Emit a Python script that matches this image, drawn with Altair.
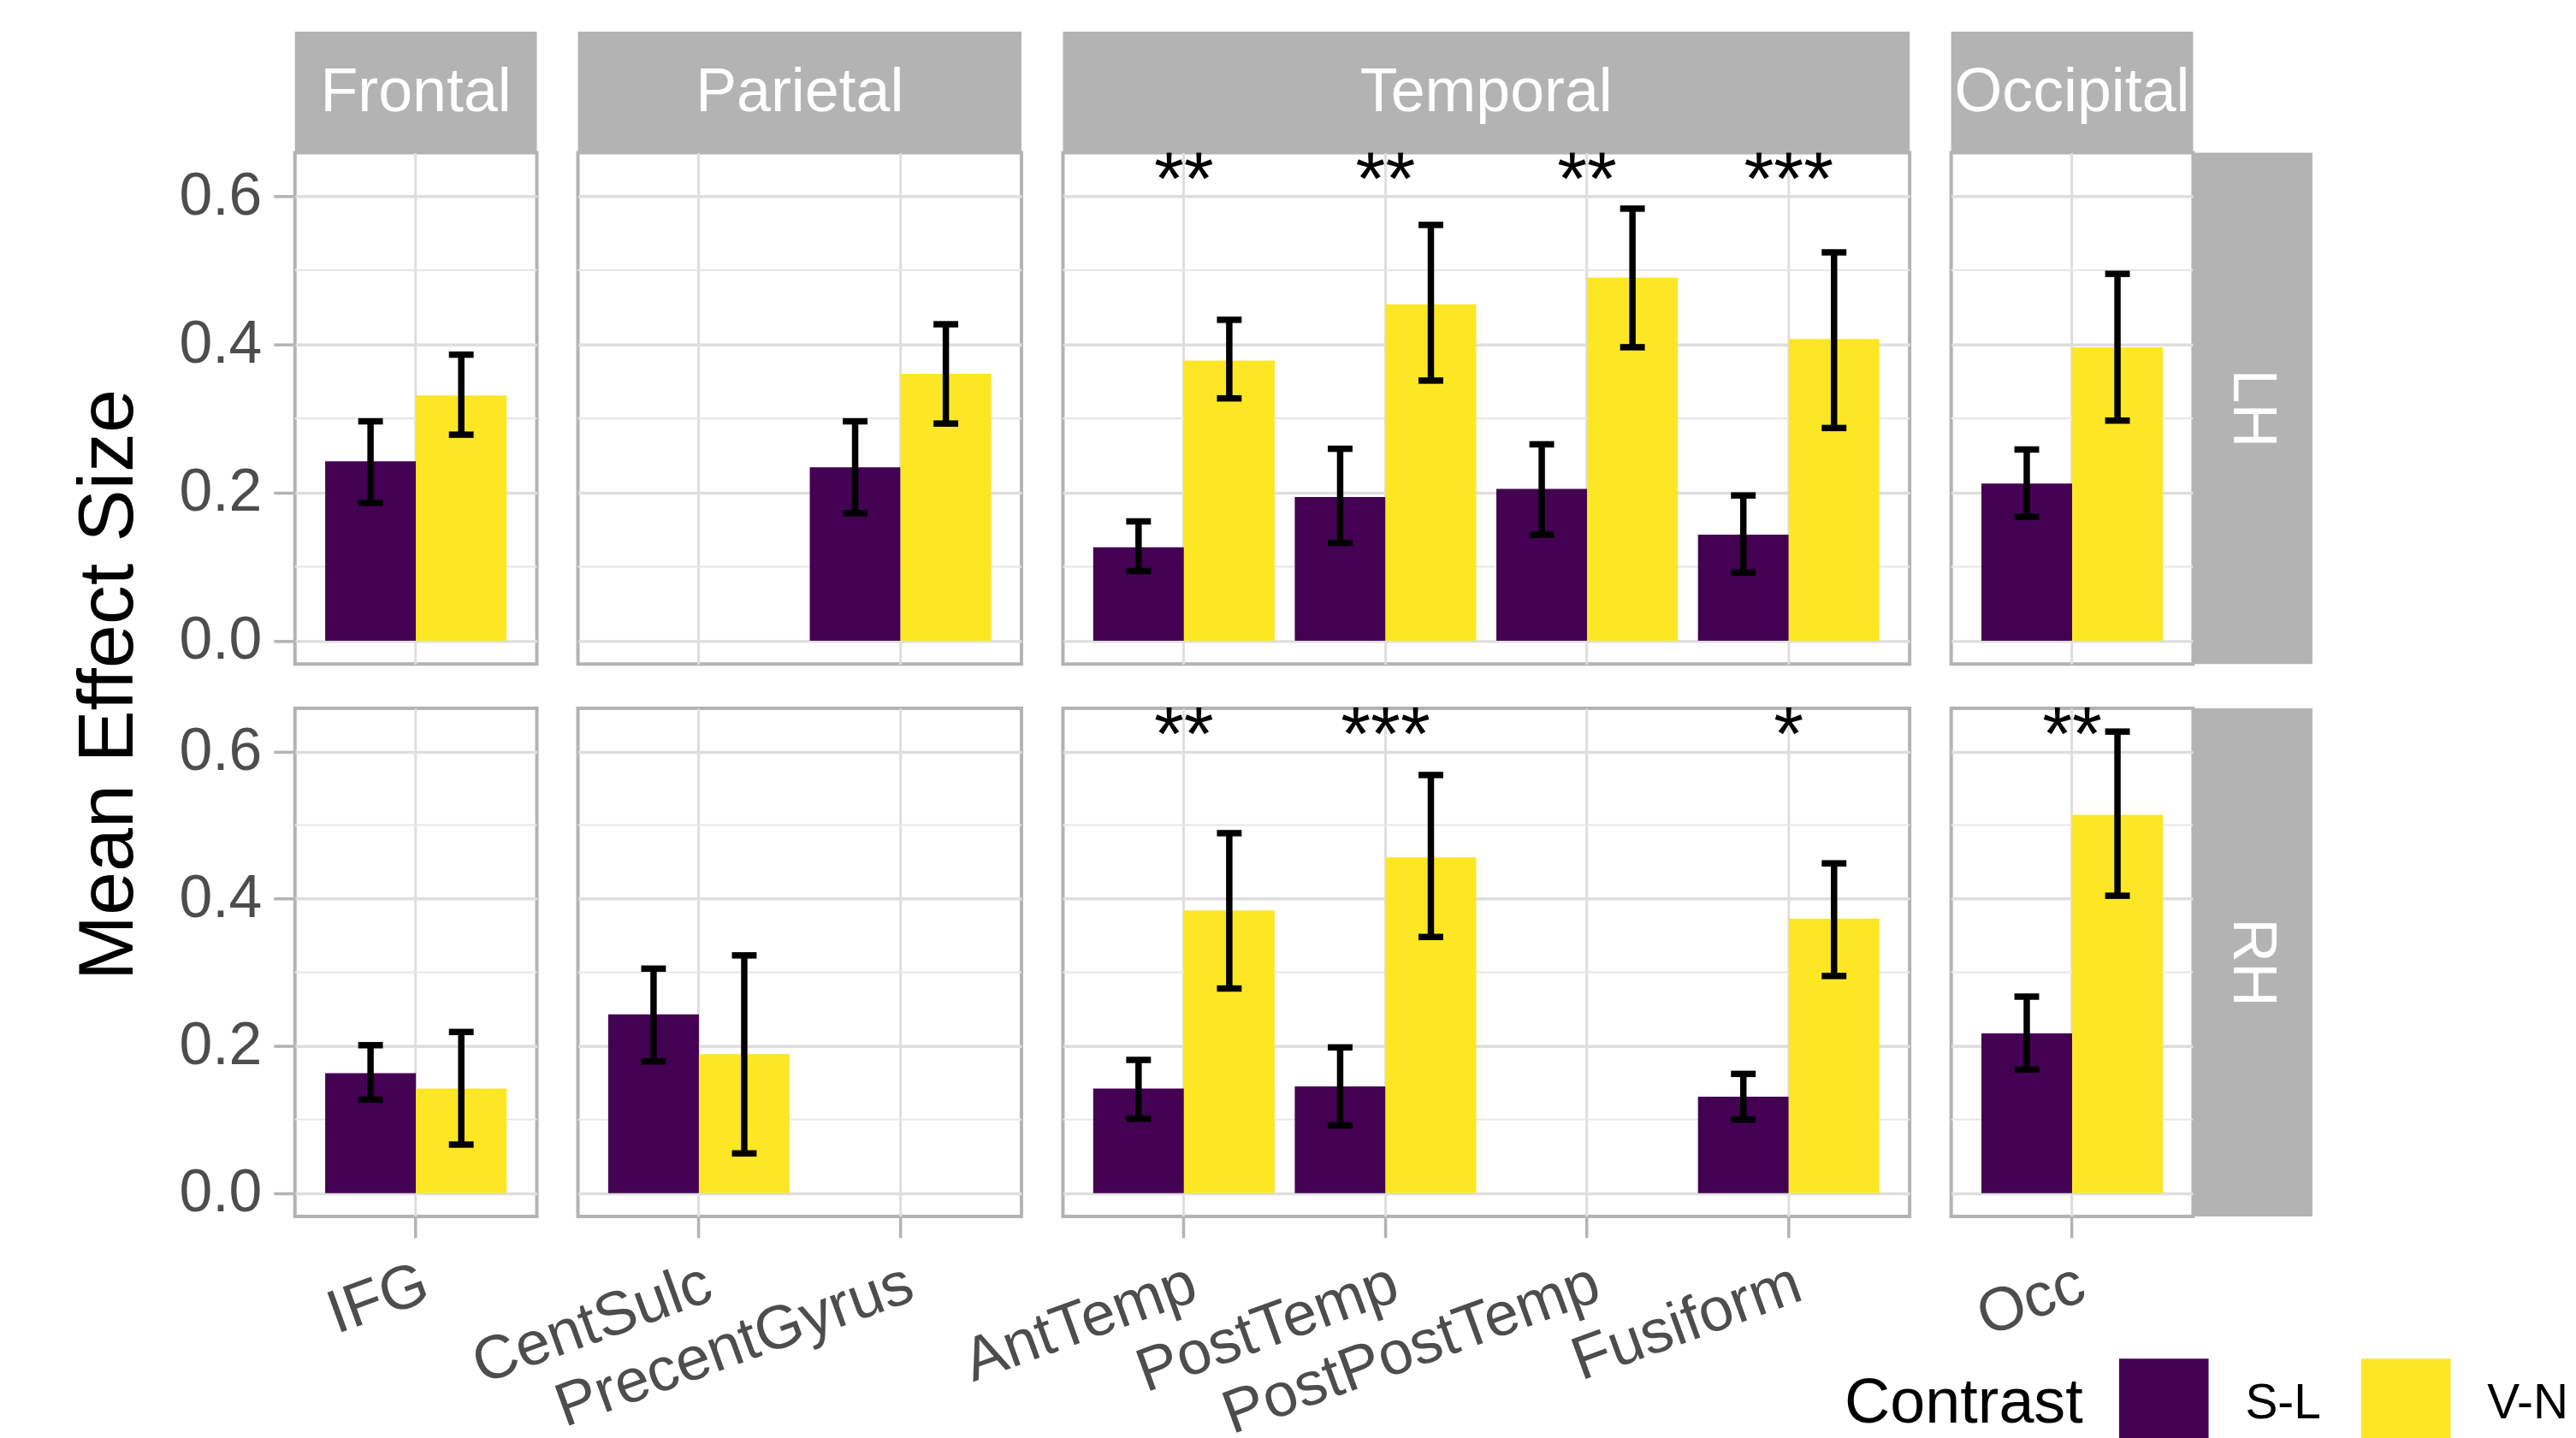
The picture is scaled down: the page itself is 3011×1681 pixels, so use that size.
import altair as alt
import pandas as pd

FONT = "Liberation Sans"

# ---------------- data ----------------
regions = ["Frontal", "Parietal", "Temporal", "Occipital"]
rois_frontal = ["IFG"]
rois_parietal = ["CentSulc", "PrecentGyrus"]
rois_temporal = ["AntTemp", "PostTemp", "PostPostTemp", "Fusiform"]
rois_occipital = ["Occ"]
region_rois = [rois_frontal, rois_parietal, rois_temporal, rois_occipital]
hemispheres = ["LH", "RH"]
contrasts = ["S-L", "V-N"]
contrast_colors = ["#440154", "#FDE725"]

bar_hemi = ["LH"] * 14 + ["RH"] * 12
bar_roi = [
    "IFG", "IFG", "PrecentGyrus", "PrecentGyrus", "AntTemp", "AntTemp",
    "PostTemp", "PostTemp", "PostPostTemp", "PostPostTemp", "Fusiform", "Fusiform",
    "Occ", "Occ",
    "IFG", "IFG", "CentSulc", "CentSulc", "AntTemp", "AntTemp",
    "PostTemp", "PostTemp", "Fusiform", "Fusiform", "Occ", "Occ",
]
bar_contrast = ["S-L", "V-N"] * 13
bar_mean = [
    0.242, 0.331, 0.234, 0.360, 0.126, 0.378,
    0.194, 0.454, 0.205, 0.490, 0.143, 0.407,
    0.212, 0.396,
    0.163, 0.142, 0.243, 0.189, 0.142, 0.384,
    0.145, 0.456, 0.131, 0.373, 0.217, 0.514,
]
bar_lo = [
    0.186, 0.278, 0.172, 0.293, 0.094, 0.327,
    0.132, 0.351, 0.143, 0.396, 0.092, 0.287,
    0.167, 0.297,
    0.127, 0.066, 0.179, 0.054, 0.101, 0.278,
    0.092, 0.348, 0.100, 0.295, 0.168, 0.404,
]
bar_hi = [
    0.296, 0.386, 0.296, 0.427, 0.161, 0.433,
    0.259, 0.561, 0.265, 0.583, 0.196, 0.524,
    0.258, 0.495,
    0.201, 0.219, 0.305, 0.323, 0.181, 0.489,
    0.198, 0.568, 0.162, 0.448, 0.267, 0.627,
]

star_hemi = ["LH", "LH", "LH", "LH", "RH", "RH", "RH", "RH"]
star_roi = ["AntTemp", "PostTemp", "PostPostTemp", "Fusiform",
            "AntTemp", "PostTemp", "Fusiform", "Occ"]
star_text = ["**", "**", "**", "***", "**", "***", "*", "**"]
star_y = [0.62] * 8

y_major = [0.0, 0.2, 0.4, 0.6]
y_minor = [0.1, 0.3, 0.5]
y_domain = [-0.0315, 0.6585]

# ---------------- tables ----------------
roi_region = {r: reg for reg, lst in zip(regions, region_rois) for r in lst}
bars = pd.DataFrame({
    "hemi": bar_hemi, "roi": bar_roi, "contrast": bar_contrast,
    "mean": bar_mean, "lo": bar_lo, "hi": bar_hi,
})
bars["region"] = bars["roi"].map(roi_region)
stars = pd.DataFrame({"hemi": star_hemi, "roi": star_roi, "star": star_text, "sy": star_y})
stars["region"] = stars["roi"].map(roi_region)
minor = pd.DataFrame({"v": y_minor})

# ---------------- layout constants ----------------
STEP = 236.5
PANEL_H = {"LH": 600, "RH": 596}
STRIP_H = 142
ROWSTRIP_W = 140
STRIP_FILL = "#B3B3B3"

legend = alt.Legend(
    orient="none", legendX=1818, legendY=1415, direction="horizontal",
    titleOrient="left", titleAnchor="middle", titleBaseline="middle",
    titleFont=FONT, titleFontSize=74, titleColor="black", titleFontWeight="normal",
    titlePadding=42, titleLimit=1000, labelFont=FONT, labelFontSize=57, labelColor="black",
    labelOffset=43, columnPadding=47, symbolType="square", symbolSize=11025,
    symbolStrokeWidth=0, symbolOpacity=1, padding=0, labelLimit=1000,
)


def panel(ci, hemi):
    region = regions[ci]
    rois = region_rois[ci]
    w = STEP * (len(rois) + 0.2)
    h = PANEL_H[hemi]
    d = bars[(bars.region == region) & (bars.hemi == hemi)]
    s = stars[(stars.region == region) & (stars.hemi == hemi)]

    xs = alt.Scale(domain=rois, paddingInner=0, paddingOuter=0.1)
    if hemi == "RH":
        xaxis = alt.Axis(title=None, grid=True, bandPosition=0.5, labelAngle=-20,
                         labelAlign="right", labelBaseline="top", labelPadding=18,
                         labelLimit=2000, labelOverlap=False, labelFontSize=72,
                         ticks=True, domain=False, gridWidth=3)
    else:
        xaxis = alt.Axis(title=None, grid=True, bandPosition=0.5, labels=False,
                         ticks=False, domain=False, gridWidth=3)
    ys = alt.Scale(domain=y_domain, nice=False)
    if ci == 0:
        if hemi == "LH":
            yaxis = alt.Axis(values=y_major, format=".1f", grid=True,
                             title="Mean Effect Size", titleY=624, titlePadding=36,
                             titleLimit=2000)
        else:
            yaxis = alt.Axis(values=y_major, format=".1f", grid=True, title=None)
    else:
        yaxis = alt.Axis(values=y_major, labels=False, ticks=False, grid=True, title=None)

    X = alt.X("roi:N", scale=xs, axis=xaxis)
    XO = alt.XOffset("contrast:N", scale=alt.Scale(domain=contrasts, paddingInner=0,
                                                  paddingOuter=0.111))

    layers = []
    layers.append(alt.Chart(minor).mark_rule(color="#E8E8E8", strokeWidth=2.2).encode(
        y=alt.Y("v:Q", scale=ys, axis=yaxis)))
    layers.append(alt.Chart(d).mark_bar().encode(
        x=X, xOffset=XO,
        y=alt.Y("mean:Q", scale=ys, axis=yaxis), y2=alt.datum(0),
        color=alt.Color("contrast:N", title="Contrast",
                        scale=alt.Scale(domain=contrasts, range=contrast_colors),
                        legend=legend)))
    layers.append(alt.Chart(d).mark_rule(color="black", strokeWidth=7.5).encode(
        x=X, xOffset=XO, y=alt.Y("lo:Q", scale=ys, axis=yaxis), y2="hi:Q"))
    layers.append(alt.Chart(d).mark_tick(color="black", thickness=7.5, size=29, opacity=1).encode(
        x=X, xOffset=XO, y=alt.Y("lo:Q", scale=ys, axis=yaxis)))
    layers.append(alt.Chart(d).mark_tick(color="black", thickness=7.5, size=29, opacity=1).encode(
        x=X, xOffset=XO, y=alt.Y("hi:Q", scale=ys, axis=yaxis)))
    if len(s):
        layers.append(alt.Chart(s).mark_text(font=FONT, fontSize=90, color="black",
                                             baseline="middle", align="center").encode(
            x=X, y=alt.Y("sy:Q", scale=ys, axis=yaxis), text="star:N"))
    if hemi == "LH":
        sd = pd.DataFrame({"region": [region]})
        layers.append(alt.Chart(sd).mark_rect(color=STRIP_FILL).encode(
            x=alt.value(0), x2=alt.value(w), y=alt.value(-STRIP_H), y2=alt.value(0)))
        layers.append(alt.Chart(sd).mark_text(font=FONT, fontSize=72, color="white",
                                              baseline="middle", align="center").encode(
            x=alt.value(w / 2), y=alt.value(-STRIP_H / 2), text="region:N"))
    if ci == 3:
        hd = pd.DataFrame({"hemi": [hemi]})
        layers.append(alt.Chart(hd).mark_rect(color=STRIP_FILL).encode(
            x=alt.value(w), x2=alt.value(w + ROWSTRIP_W), y=alt.value(0),
            y2=alt.value(h)))
        layers.append(alt.Chart(hd).mark_text(font=FONT, fontSize=72, color="white",
                                              baseline="middle", align="center",
                                              angle=90).encode(
            x=alt.value(w + ROWSTRIP_W / 2), y=alt.value(h / 2), text="hemi:N"))
    return alt.layer(*layers).properties(width=w, height=h)


cells = [panel(ci, hm) for hm in hemispheres for ci in range(4)]

chart = alt.concat(
    *cells, columns=4, spacing={"row": 52, "column": 48}, bounds="flush", align="each"
).resolve_scale(color="shared").properties(
    padding={"left": 70, "top": 24, "right": 0, "bottom": 0}
).configure_view(
    stroke="#B3B3B3", strokeWidth=4
).configure_axis(
    labelFont=FONT, labelFontSize=70, labelColor="#4D4D4D", tickColor="#B3B3B3",
    tickWidth=3.5, tickSize=25, titleFont=FONT, titleFontSize=92, titleColor="black",
    titleFontWeight="normal", gridColor="#DEDEDE", gridWidth=3.5, domain=False,
    labelPadding=14,
)

chart.save("out.html", embed_options={"renderer": "svg", "actions": False})
